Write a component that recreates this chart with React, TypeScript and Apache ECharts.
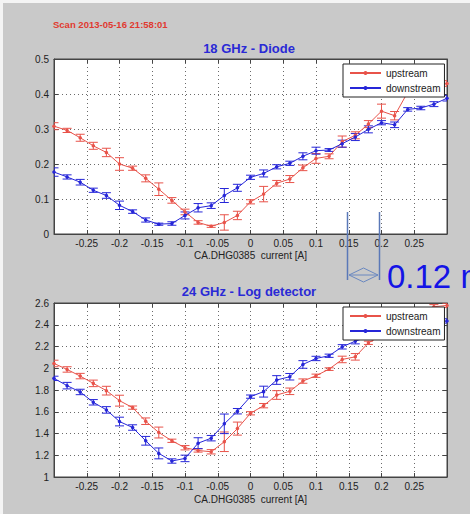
import React, { useEffect, useRef } from "react";
import * as echarts from "echarts";

const xValues: number[] = [
  -0.3, -0.28, -0.26, -0.24, -0.22, -0.2, -0.18, -0.16, -0.14, -0.12, -0.1,
  -0.08, -0.06, -0.04, -0.02, 0, 0.02, 0.04, 0.06, 0.08, 0.1, 0.12, 0.14,
  0.16, 0.18, 0.2, 0.22, 0.24, 0.26, 0.28, 0.3,
];

// 18 GHz - Diode
const diodeUp: number[] = [
  0.308, 0.296, 0.275, 0.252, 0.233, 0.2, 0.188, 0.159, 0.128, 0.096, 0.063,
  0.033, 0.022, 0.033, 0.053, 0.092, 0.114, 0.145, 0.157, 0.189, 0.216, 0.222,
  0.264, 0.282, 0.314, 0.351, 0.338, 0.405, 0.415, 0.422, 0.43,
];
const diodeUpErr: number[] = [
  0.01, 0.006, 0.01, 0.01, 0.012, 0.018, 0.006, 0.01, 0.018, 0.008, 0.008,
  0.005, 0.003, 0.022, 0.012, 0.006, 0.022, 0.008, 0.01, 0.008, 0.014, 0.007,
  0.016, 0.01, 0.01, 0.02, 0.012, 0.008, 0.008, 0.008, 0.008,
];
const diodeDown: number[] = [
  0.177, 0.163, 0.148, 0.125, 0.11, 0.082, 0.064, 0.04, 0.028, 0.03, 0.053,
  0.075, 0.081, 0.11, 0.132, 0.162, 0.173, 0.192, 0.202, 0.222, 0.238, 0.24,
  0.258, 0.277, 0.299, 0.318, 0.312, 0.356, 0.36, 0.371, 0.388,
];
const diodeDownErr: number[] = [
  0.012, 0.006, 0.008, 0.006, 0.008, 0.012, 0.005, 0.006, 0.003, 0.005, 0.01,
  0.012, 0.008, 0.02, 0.01, 0.006, 0.01, 0.006, 0.006, 0.01, 0.01, 0.004,
  0.01, 0.01, 0.01, 0.006, 0.008, 0.005, 0.005, 0.007, 0.008,
];

// 24 GHz - Log detector
const logUp: number[] = [
  2.044, 1.989, 1.928, 1.861, 1.794, 1.702, 1.638, 1.513, 1.409, 1.333, 1.269,
  1.244, 1.232, 1.324, 1.445, 1.586, 1.656, 1.754, 1.788, 1.882, 1.931, 1.992,
  2.081, 2.105, 2.234, 2.3, 2.32, 2.42, 2.5, 2.565, 2.578,
];
const logUpErr: number[] = [
  0.03, 0.025, 0.025, 0.03, 0.04, 0.05, 0.015, 0.03, 0.05, 0.015, 0.02,
  0.015, 0.02, 0.09, 0.06, 0.015, 0.02, 0.04, 0.03, 0.02, 0.015, 0.012,
  0.03, 0.03, 0.015, 0.02, 0.02, 0.02, 0.02, 0.02, 0.02,
];
const logDown: number[] = [
  1.907, 1.84, 1.782, 1.687, 1.617, 1.51, 1.455, 1.333, 1.217, 1.147, 1.171,
  1.311, 1.357, 1.489, 1.605, 1.739, 1.785, 1.892, 1.922, 2.035, 2.09, 2.115,
  2.197, 2.249, 2.29, 2.33, 2.35, 2.38, 2.4, 2.42, 2.435,
];
const logDownErr: number[] = [
  0.02, 0.03, 0.025, 0.025, 0.03, 0.04, 0.025, 0.04, 0.05, 0.02, 0.03,
  0.05, 0.025, 0.09, 0.025, 0.015, 0.05, 0.04, 0.03, 0.035, 0.02, 0.015,
  0.02, 0.025, 0.02, 0.02, 0.02, 0.02, 0.02, 0.02, 0.02,
];

const seriesNames: string[] = ["upstream", "downstream"];
const titles: string[] = ["18 GHz - Diode", "24 GHz - Log detector"];
const xAxisName = "CA.DHG0385  current [A]";
const scanLabel = "Scan 2013-05-16 21:58:01";
const distanceLabel = "0.12 mm";

const RED = "#e8534a";
const BLUE = "#2626d8";
const FONT = "Liberation Sans, Arial, sans-serif";

const fmt = (v: number) => String(parseFloat(v.toFixed(2)));

export default function App() {
  const ref = useRef<HTMLDivElement>(null);
  useEffect(() => {
    if (!ref.current) return;
    const chart = echarts.init(ref.current, undefined, { renderer: "svg" });

    const grids = [
      { left: 54, top: 59, width: 393, height: 175 },
      { left: 54, top: 303, width: 393, height: 174 },
    ];
    const yRanges = [
      { min: 0, max: 0.5, interval: 0.1 },
      { min: 1, max: 2.6, interval: 0.2 },
    ];

    const axisLine = { show: true, onZero: false, lineStyle: { color: "#444", width: 1 } };
    const axisTick = { show: true, inside: true, length: 4, lineStyle: { color: "#444" } };
    const splitLine = { show: true, lineStyle: { color: "#6a6a6a", type: [1, 3], width: 1 } };

    const xAxes: any[] = [];
    const yAxes: any[] = [];
    grids.forEach((_, gi) => {
      xAxes.push({
        type: "value",
        gridIndex: gi,
        position: "bottom",
        min: -0.3,
        max: 0.3,
        interval: 0.05,
        name: xAxisName,
        nameLocation: "middle",
        nameGap: gi === 0 ? 16 : 17,
        nameTextStyle: { fontSize: 10, color: "#222", fontFamily: FONT },
        axisLine,
        axisTick,
        axisLabel: {
          fontSize: 10,
          color: "#222",
          fontFamily: FONT,
          margin: 4,
          showMinLabel: false,
          showMaxLabel: false,
          formatter: (v: number) => fmt(v),
        },
        splitLine,
      });
      xAxes.push({
        type: "value",
        gridIndex: gi,
        position: "top",
        min: -0.3,
        max: 0.3,
        interval: 0.05,
        axisLine,
        axisTick,
        axisLabel: { show: false },
        splitLine: { show: false },
      });
      yAxes.push({
        type: "value",
        gridIndex: gi,
        position: "left",
        ...yRanges[gi],
        axisLine,
        axisTick,
        axisLabel: {
          fontSize: 10,
          color: "#222",
          fontFamily: FONT,
          margin: 5,
          formatter: (v: number) => fmt(v),
        },
        splitLine,
      });
      yAxes.push({
        type: "value",
        gridIndex: gi,
        position: "right",
        ...yRanges[gi],
        axisLine,
        axisTick,
        axisLabel: { show: false },
        splitLine: { show: false },
      });
    });

    const errRender = (params: any, api: any) => {
      const x = api.value(0);
      const lo = api.coord([x, api.value(1)]);
      const hi = api.coord([x, api.value(2)]);
      const color = api.visual("color");
      const w = 4.5;
      const style = { stroke: color, lineWidth: 1 };
      return {
        type: "group",
        children: [
          { type: "line", shape: { x1: lo[0], y1: lo[1], x2: hi[0], y2: hi[1] }, style },
          { type: "line", shape: { x1: lo[0] - w, y1: lo[1], x2: lo[0] + w, y2: lo[1] }, style },
          { type: "line", shape: { x1: hi[0] - w, y1: hi[1], x2: hi[0] + w, y2: hi[1] }, style },
        ],
      };
    };

    const datasets = [
      [diodeUp, diodeUpErr, diodeDown, diodeDownErr],
      [logUp, logUpErr, logDown, logDownErr],
    ];
    const series: any[] = [];
    datasets.forEach((ds, gi) => {
      const pairs = [
        { name: seriesNames[0], vals: ds[0], errs: ds[1], color: RED },
        { name: seriesNames[1], vals: ds[2], errs: ds[3], color: BLUE },
      ];
      pairs.forEach((p) => {
        series.push({
          type: "line",
          name: p.name,
          xAxisIndex: gi * 2,
          yAxisIndex: gi * 2,
          data: xValues.map((x, i) => [x, p.vals[i]]),
          symbol: "circle",
          symbolSize: 3.5,
          showSymbol: true,
          lineStyle: { color: p.color, width: 1 },
          itemStyle: { color: p.color },
          color: p.color,
          z: 3,
        });
        series.push({
          type: "custom",
          name: p.name + " err",
          xAxisIndex: gi * 2,
          yAxisIndex: gi * 2,
          data: xValues.map((x, i) => [x, p.vals[i] - p.errs[i], p.vals[i] + p.errs[i]]),
          renderItem: errRender,
          itemStyle: { color: p.color },
          color: p.color,
          clip: true,
          z: 3,
        });
      });
    });

    const legendBase = {
      orient: "vertical",
      left: 343,
      backgroundColor: "#ffffff",
      borderColor: "#222",
      borderWidth: 1,
      borderRadius: 0,
      padding: [4, 4, 4, 6],
      itemGap: 5,
      itemWidth: 31,
      itemHeight: 5,
      textStyle: { fontSize: 10, color: "#222", fontFamily: FONT },
      data: seriesNames,
      selectedMode: false,
      z: 10,
    };

    const option: any = {
      animation: false,
      backgroundColor: "#c9c9c9",
      grid: grids.map((g) => ({
        ...g,
        show: true,
        backgroundColor: "#ffffff",
        borderColor: "#444",
        borderWidth: 1,
      })),
      xAxis: xAxes,
      yAxis: yAxes,
      legend: [
        { ...legendBase, top: 64 },
        { ...legendBase, top: 307 },
      ],
      series,
      graphic: [
        { type: "rect", shape: { x: 0, y: 0, width: 470, height: 3 }, style: { fill: "#f4f4f4" }, z: 0 },
        { type: "rect", shape: { x: 0, y: 0, width: 3, height: 514 }, style: { fill: "#f4f4f4" }, z: 0 },
        {
          type: "text",
          x: 53,
          y: 24,
          style: {
            text: scanLabel,
            fill: "#e03a30",
            font: `bold 9.5px ${FONT}`,
            textVerticalAlign: "middle",
          },
        },
        {
          type: "text",
          x: 249,
          y: 48,
          style: {
            text: titles[0],
            fill: "#2a2ad6",
            font: `bold 13px ${FONT}`,
            textAlign: "center",
            textVerticalAlign: "middle",
          },
        },
        {
          type: "text",
          x: 249,
          y: 291,
          style: {
            text: titles[1],
            fill: "#2a2ad6",
            font: `bold 13px ${FONT}`,
            textAlign: "center",
            textVerticalAlign: "middle",
          },
        },
        {
          type: "line",
          shape: { x1: 347.5, y1: 212, x2: 347.5, y2: 280 },
          style: { stroke: "#5a78b8", lineWidth: 1.5 },
          z: 20,
        },
        {
          type: "line",
          shape: { x1: 379.5, y1: 212, x2: 379.5, y2: 280 },
          style: { stroke: "#5a78b8", lineWidth: 1.5 },
          z: 20,
        },
        {
          type: "polygon",
          shape: { points: [[349, 275], [363.5, 268], [378, 275], [363.5, 282]] },
          style: { fill: "none", stroke: "#6a88c0", lineWidth: 1 },
          z: 20,
        },
        {
          type: "line",
          shape: { x1: 349, y1: 275, x2: 378, y2: 275 },
          style: { stroke: "#6a88c0", lineWidth: 1 },
          z: 20,
        },
        {
          type: "text",
          x: 387,
          y: 276.5,
          style: {
            text: distanceLabel,
            fill: "#1414e6",
            font: `33px ${FONT}`,
            textVerticalAlign: "middle",
          },
          z: 20,
        },
      ],
    };
    chart.setOption(option);
    return () => chart.dispose();
  }, []);
  return (
    <div
      ref={ref}
      style={{ position: "fixed", left: 0, top: 0, width: 470, height: 514 }}
    />
  );
}
